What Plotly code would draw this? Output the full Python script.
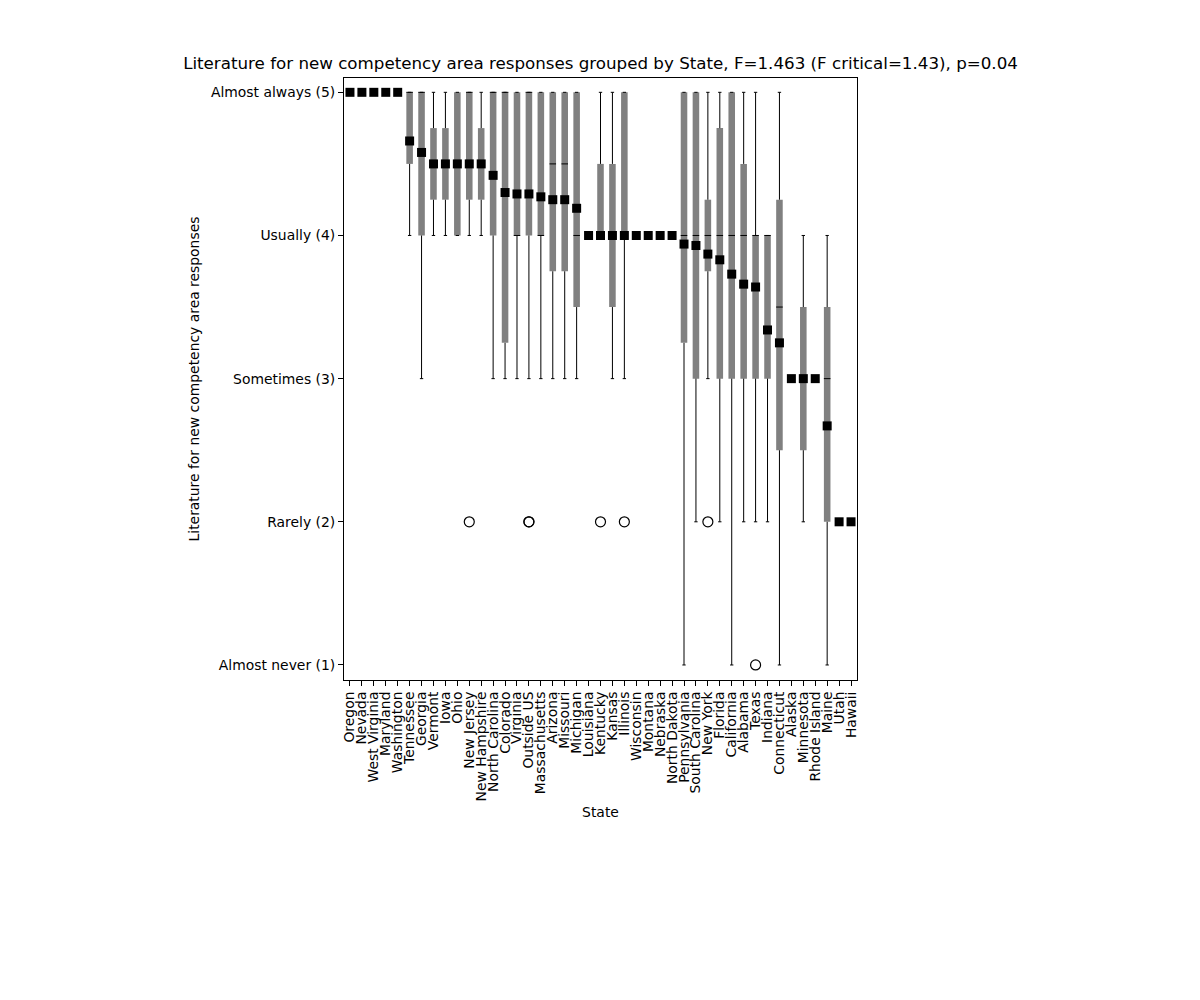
import plotly.graph_objects as go

# States in plotted order
states = [
    "Oregon", "Nevada", "West Virginia", "Maryland", "Washington", "Tennessee",
    "Georgia", "Vermont", "Iowa", "Ohio", "New Jersey", "New Hampshire",
    "North Carolina", "Colorado", "Virginia", "Outside US", "Massachusetts",
    "Arizona", "Missouri", "Michigan", "Louisiana", "Kentucky", "Kansas",
    "Illinois", "Wisconsin", "Montana", "Nebraska", "North Dakota",
    "Pennsylvania", "South Carolina", "New York", "Florida", "California",
    "Alabama", "Texas", "Indiana", "Connecticut", "Alaska", "Minnesota",
    "Rhode Island", "Maine", "Utah", "Hawaii",
]

# Box statistics per state
whislo = [5, 5, 5, 5, 5, 4, 3, 4, 4, 4, 4, 4, 3, 3, 3, 3, 3, 3, 3, 3, 4, 4, 3,
          3, 4, 4, 4, 4, 1, 2, 3, 2, 1, 2, 2, 2, 1, 3, 2, 3, 1, 2, 2]
q1 = [5, 5, 5, 5, 5, 4.5, 4, 4.25, 4.25, 4, 4.25, 4.25, 4, 3.25, 4, 4, 4, 3.75,
      3.75, 3.5, 4, 4, 3.5, 4, 4, 4, 4, 4, 3.25, 3, 3.75, 3, 3, 3, 3, 3, 2.5,
      3, 2.5, 3, 2, 2, 2]
medians = [5, 5, 5, 5, 5, 5, 5, 4.5, 4.5, 4.5, 5, 4.5, 5, 5, 4, 5, 4, 4.5, 4.5,
           4, 4, 4, 4, 4, 4, 4, 4, 4, 4, 4, 4, 4, 4, 4, 4, 4, 3.5, 3, 3, 3, 3,
           2, 2]
q3 = [5, 5, 5, 5, 5, 5, 5, 4.75, 4.75, 5, 5, 4.75, 5, 5, 5, 5, 5, 5, 5, 5, 4,
      4.5, 4.5, 5, 4, 4, 4, 4, 5, 5, 4.25, 4.75, 5, 4.5, 4, 4, 4.25, 3, 3.5, 3,
      3.5, 2, 2]
whishi = [5, 5, 5, 5, 5, 5, 5, 5, 5, 5, 5, 5, 5, 5, 5, 5, 5, 5, 5, 5, 4, 5, 5,
          5, 4, 4, 4, 4, 5, 5, 5, 5, 5, 5, 5, 4, 5, 3, 4, 3, 4, 2, 2]
means = [5, 5, 5, 5, 5, 4.66, 4.58, 4.5, 4.5, 4.5, 4.5, 4.5, 4.42, 4.3, 4.29,
         4.29, 4.27, 4.25, 4.25, 4.19, 4, 4, 4, 4, 4, 4, 4, 4, 3.94, 3.93,
         3.87, 3.83, 3.73, 3.66, 3.64, 3.34, 3.25, 3, 3, 3, 2.67, 2, 2]

# Outliers
outlier_states = ["New Jersey", "Outside US", "Outside US", "Kentucky",
                  "Illinois", "New York", "Texas"]
outlier_values = [2, 2, 2, 2, 2, 2, 1]

ytick_vals = [1, 2, 3, 4, 5]
ytick_text = ["Almost never (1)", "Rarely (2)", "Sometimes (3)",
              "Usually (4)", "Almost always (5)"]

pos = list(range(1, len(states) + 1))
box_w = 0.55
cap_w = 0.14

# whiskers and caps
wx, wy = [], []
for x, lo, a, b, hi in zip(pos, whislo, q1, q3, whishi):
    wx += [x, x, None, x, x, None]
    wy += [lo, a, None, b, hi, None]
    wx += [x - cap_w, x + cap_w, None, x - cap_w, x + cap_w, None]
    wy += [lo, lo, None, hi, hi, None]

# median lines
mx, my = [], []
for x, m in zip(pos, medians):
    mx += [x - box_w / 2, x + box_w / 2, None]
    my += [m, m, None]

fig = go.Figure()

fig.add_trace(go.Scatter(x=wx, y=wy, mode="lines",
                         line=dict(color="black", width=1), hoverinfo="skip"))

fig.add_trace(go.Bar(
    x=pos,
    y=[b - a for a, b in zip(q1, q3)],
    base=q1,
    width=box_w,
    marker=dict(color="#808080", line=dict(width=0)),
))

fig.add_trace(go.Scatter(x=mx, y=my, mode="lines",
                         line=dict(color="black", width=1), hoverinfo="skip"))

fig.add_trace(go.Scatter(
    x=pos, y=means, mode="markers",
    marker=dict(symbol="square", size=9, color="black"),
))

fig.add_trace(go.Scatter(
    x=[states.index(s) + 1 for s in outlier_states],
    y=outlier_values, mode="markers",
    marker=dict(symbol="circle-open", size=10, color="black",
                line=dict(width=1.2)),
))

fig.update_layout(
    width=1200,
    height=1000,
    margin=dict(l=336, r=351, t=70, b=328),
    plot_bgcolor="white",
    paper_bgcolor="white",
    showlegend=False,
    font=dict(family="DejaVu Sans", size=13.9, color="black"),
    title=dict(
        text="Literature for new competency area responses grouped by State, "
             "F=1.463 (F critical=1.43), p=0.04",
        xref="paper", x=0.5, xanchor="center", y=0.945, yanchor="middle",
        font=dict(size=16.7),
    ),
    xaxis=dict(
        range=[0.5, 43.5],
        tickvals=pos,
        ticktext=states,
        tickangle=-90,
        ticks="outside", ticklen=5, tickcolor="black",
        showline=True, mirror=True, linecolor="black", linewidth=1,
        showgrid=False, zeroline=False,
        title=dict(text="State", standoff=6, font=dict(size=13.9)),
    ),
    yaxis=dict(
        range=[0.895, 5.1],
        tickvals=ytick_vals,
        ticktext=ytick_text,
        ticks="outside", ticklen=5, tickcolor="black",
        showline=True, mirror=True, linecolor="black", linewidth=1,
        showgrid=False, zeroline=False,
        title=dict(text="Literature for new competency area responses",
                   standoff=8, font=dict(size=13.9)),
    ),
)

fig.write_html("out.html")
